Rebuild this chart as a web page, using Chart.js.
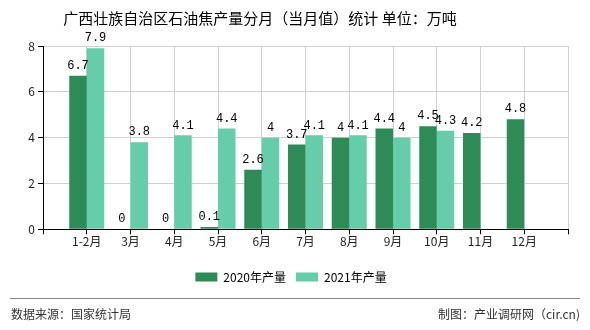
<!DOCTYPE html>
<html>
<head>
<meta charset="utf-8">
<script src="https://cdn.jsdelivr.net/npm/chart.js@4/dist/chart.umd.min.js"></script>
<style>
  body { margin: 0; background: #fff; }
  #box { width: 590px; height: 330px; }
</style>
</head>
<body>
<div id="box"><canvas id="c" width="590" height="330"></canvas></div>
<script>
// 月份（前后各留一个空位，和原图一样）
const months = ["", "1-2月", "3月", "4月", "5月", "6月", "7月", "8月", "9月", "10月", "11月", "12月", ""];
const output2020 = [null, 6.7, 0, 0, 0.1, 2.6, 3.7, 4, 4.4, 4.5, 4.2, 4.8, null];
const output2021 = [null, 7.9, 3.8, 4.1, 4.4, 4, 4.1, 4.1, 4, 4.3, null, null, null];
const yTicks = [0, 2, 4, 6, 8];

const titleText = "广西壮族自治区石油焦产量分月（当月值）统计 单位：万吨";
const sourceText = "数据来源：国家统计局";
const makerText = "制图：产业调研网（cir.cn)";

const cjk = "'Noto Sans CJK SC', 'Noto Sans', sans-serif";

// 标题、底部说明、数值标签
const decoPlugin = {
    id: "deco",
    afterDraw(chart) {
        const ctx = chart.ctx;
        ctx.save();
        ctx.fillStyle = "#000";
        ctx.font = "15px " + cjk;
        ctx.textAlign = "center";
        ctx.textBaseline = "middle";
        ctx.fillText(titleText, 260, 18);

        ctx.strokeStyle = "#888";
        ctx.lineWidth = 1;
        ctx.beginPath();
        ctx.moveTo(10, 298.5);
        ctx.lineTo(580, 298.5);
        ctx.stroke();

        ctx.fillStyle = "#333";
        ctx.font = "12px " + cjk;
        ctx.textAlign = "left";
        ctx.fillText(sourceText, 11, 314);
        ctx.textAlign = "right";
        ctx.fillText(makerText, 580, 314);
        ctx.restore();
    },
    afterDatasetsDraw(chart) {
        const ctx = chart.ctx;
        ctx.save();
        ctx.fillStyle = "#000";
        ctx.font = "12px 'Liberation Mono', monospace";
        ctx.textAlign = "center";
        ctx.textBaseline = "bottom";
        chart.data.datasets.forEach((ds, i) => {
            chart.getDatasetMeta(i).data.forEach((bar, j) => {
                const v = ds.data[j];
                if (v === null || v === undefined) return;
                ctx.fillText(String(v), bar.x, bar.y - 4);
            });
        });
        ctx.restore();
    }
};

new Chart(document.getElementById("c"), {
    type: "bar",
    data: {
        labels: months,
        datasets: [
            {
                label: "2020年产量",
                data: output2020,
                backgroundColor: "#2e8b57",
                borderWidth: 0,
                categoryPercentage: 0.8,
                barPercentage: 1,
            },
            {
                label: "2021年产量",
                data: output2021,
                backgroundColor: "#66cdaa",
                borderWidth: 0,
                categoryPercentage: 0.8,
                barPercentage: 1,
            },
        ],
    },
    options: {
        responsive: false,
        animation: false,
        layout: { padding: { left: 14, top: 46, right: 22, bottom: 37 } },
        plugins: {
            title: { display: false },
            tooltip: { enabled: false },
            legend: {
                position: "bottom",
                labels: {
                    boxWidth: 22,
                    boxHeight: 9,
                    padding: 10,
                    color: "#000",
                    font: { family: cjk, size: 12 },
                },
            },
        },
        scales: {
            x: {
                offset: false,
                grid: { offset: false, color: "#d0d0d0", tickColor: "#000", tickLength: 5 },
                border: { color: "#000" },
                ticks: { color: "#222", padding: 0, maxRotation: 0, autoSkip: false, font: { family: cjk, size: 12 } },
                afterFit(scale) { scale.height = 31.7; },
            },
            y: {
                min: 0,
                max: 8,
                afterBuildTicks(scale) { scale.ticks = yTicks.map((v) => ({ value: v })); },
                grid: { color: "#d0d0d0", tickColor: "#000", tickLength: 5 },
                border: { color: "#000" },
                ticks: { color: "#222", padding: 3, font: { family: cjk, size: 12 } },
                afterFit(scale) { scale.width = 29; },
            },
        },
    },
    plugins: [decoPlugin],
});
</script>
</body>
</html>
